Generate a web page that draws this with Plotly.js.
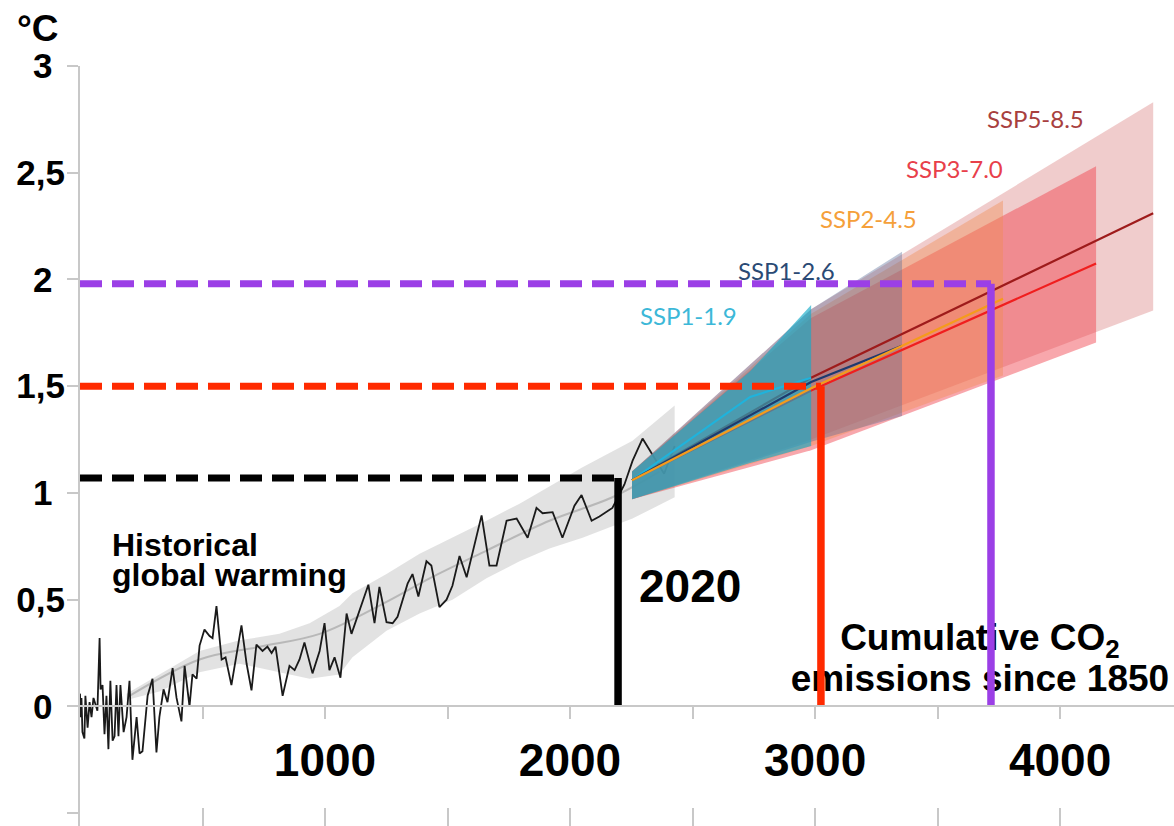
<!DOCTYPE html>
<html>
<head>
<meta charset="utf-8">
<script src="https://cdn.plot.ly/plotly-3.0.1.min.js"></script>
<style>html,body{margin:0;padding:0;background:#fff;}#chart{width:1174px;height:826px;}</style>
</head>
<body>
<div id="chart"></div>
<script>
// ---------- DATA ----------
// Historical warming (x = cumulative CO2 emissions since 1850, GtCO2; y = warming, °C)
const histX = [0,3,6,10,18,22,31,39,47,55,63,71,80,84,92,100,108,116,124,133,141,149,157,165,178,190,202,214,231,243,255,276,296,312,324,341,357,378,394,414,427,439,447,459,476,488,508,529,541,557,578,594,618,659,680,700,720,745,765,782,798,827,855,876,896,916,949,978,998,1018,1039,1063,1088,1108,1141,1157,1177,1202,1222,1251,1276,1296,1337,1357,1381,1414,1434,1467,1496,1520,1549,1578,1639,1671,1700,1741,1782,1827,1863,1888,1929,1969,2018,2047,2088,2120,2173,2222,2255,2296,2337,2384,2427];
const histY = [0.06,-0.05,0.04,-0.12,-0.15,0.05,-0.10,0.02,-0.05,0.04,0.01,-0.02,0.32,0.08,0.10,-0.13,0.05,-0.20,0.12,-0.16,-0.14,0.10,-0.14,0.10,-0.12,-0.05,0.12,-0.25,-0.05,-0.22,-0.21,0.05,0.13,-0.215,-0.05,0.08,0.02,0.18,0.04,-0.07,0.19,0.08,0.00,0.15,0.13,0.285,0.36,0.33,0.32,0.47,0.22,0.23,0.10,0.38,0.20,0.075,0.29,0.26,0.28,0.25,0.28,0.05,0.19,0.17,0.22,0.30,0.155,0.26,0.39,0.17,0.23,0.135,0.435,0.34,0.45,0.50,0.57,0.39,0.56,0.395,0.39,0.42,0.575,0.62,0.515,0.68,0.66,0.465,0.50,0.565,0.705,0.605,0.895,0.66,0.66,0.87,0.88,0.79,0.93,0.905,0.91,0.79,0.94,0.99,0.87,0.89,0.93,1.04,1.15,1.255,1.175,1.09,1.22];

// Historical uncertainty band and smoothed trend
const bandX     = [190, 324, 488, 651, 814, 937, 1059, 1112, 1251, 1386, 1520, 1659, 1794, 1916, 2051, 2255, 2427];
const bandUpper = [0.06, 0.15, 0.26, 0.31, 0.34, 0.39, 0.47, 0.53, 0.62, 0.715, 0.79, 0.87, 0.95, 1.03, 1.12, 1.245, 1.41];
const bandLower = [0.03, 0.07, 0.16, 0.20, 0.16, 0.13, 0.15, 0.23, 0.355, 0.435, 0.50, 0.60, 0.68, 0.74, 0.79, 0.88, 0.98];
const trendX = [202, 488, 733, 978, 1251, 1427, 1659, 1916, 2173, 2365];
const trendY = [0.05, 0.22, 0.28, 0.34, 0.49, 0.60, 0.73, 0.87, 0.98, 1.10];

// Scenario projections
const sspNames = ["SSP1-1.9", "SSP1-2.6", "SSP2-4.5", "SSP3-7.0", "SSP5-8.5"];
const ssp119X = [2253, 2735, 2984];
const ssp119Upper = [1.10, 1.57, 1.88];
const ssp119Lower = [0.97, 1.14, 1.22];
const ssp119Median = [1.06, 1.45, 1.54];
const ssp126X = [2253, 2984, 3355];
const ssp126Upper = [1.10, 1.86, 2.13];
const ssp126Lower = [0.97, 1.24, 1.36];
const ssp126Median = [1.06, 1.52, 1.69];
const ssp245X = [2253, 2984, 3767];
const ssp245Upper = [1.10, 1.84, 2.37];
const ssp245Lower = [0.97, 1.22, 1.55];
const ssp245Median = [1.06, 1.49, 1.91];
const ssp370X = [2253, 2984, 4147];
const ssp370Upper = [1.10, 1.82, 2.53];
const ssp370Lower = [0.97, 1.20, 1.705];
const ssp370Median = [1.06, 1.48, 2.075];
const ssp585X = [2253, 2984, 4380];
const ssp585Upper = [1.10, 1.86, 2.83];
const ssp585Lower = [0.97, 1.25, 1.855];
const ssp585Median = [1.06, 1.54, 2.31];
// label anchor positions (data units)
const sspLabelX = [2482, 2884, 3220, 3571, 3898];
const sspLabelY = [1.829, 2.04, 2.288, 2.518, 2.752];

// Thresholds: 2020 level, 1.5 °C, 2 °C with matching cumulative emissions
const thresholdTemps = [1.07, 1.5, 1.98];
const thresholdEmissions = [2196, 3024, 3718];

// Axis ticks
const xTickVals = [1000, 2000, 3000, 4000];
const xTickText = ["1000", "2000", "3000", "4000"];
const xMinorTickVals = [500, 1500, 2500, 3500];
const xAllTickVals = [500, 1000, 1500, 2000, 2500, 3000, 3500, 4000];
const yTickVals = [0, 0.5, 1, 1.5, 2, 2.5, 3];
const yTickText = ["0", "0,5", "1", "1,5", "2", "2,5", "3"];
const yMinorTickVals = [-0.5];

// ---------- STYLE ----------
const BOLD = "Liberation Sans, Arial, sans-serif";
const sspLine = ["#1fb3dc", "#1e3a6e", "#f59b1b", "#f01e1e", "#9e1b1b"];
const sspFill = ["rgba(20,170,200,0.65)", "rgba(85,105,150,0.38)", "rgba(240,140,80,0.40)", "rgba(240,60,70,0.45)", "rgba(205,85,85,0.30)"];
const sspText = ["#3cb8d8", "#2a4a74", "#f5a03a", "#e8404a", "#a8403e"];
const thrColors = ["#000000", "#ff2a00", "#9b3fe6"];
// single-digit tick labels get trailing padding so all labels sit centred like the original
const yTickDisplay = yTickText.map(t => t.length === 1 ? t + "\u00A0\u200A" : t);

const ssp = [
  {x: ssp119X, up: ssp119Upper, lo: ssp119Lower, med: ssp119Median},
  {x: ssp126X, up: ssp126Upper, lo: ssp126Lower, med: ssp126Median},
  {x: ssp245X, up: ssp245Upper, lo: ssp245Lower, med: ssp245Median},
  {x: ssp370X, up: ssp370Upper, lo: ssp370Lower, med: ssp370Median},
  {x: ssp585X, up: ssp585Upper, lo: ssp585Lower, med: ssp585Median}
];

function bandTrace(i) {
  const s = ssp[i];
  return {
    x: s.x.concat(s.x.slice().reverse()),
    y: s.up.concat(s.lo.slice().reverse()),
    mode: "lines", fill: "toself", fillcolor: sspFill[i],
    line: {width: 0}, hoverinfo: "skip", showlegend: false
  };
}
function medTrace(i) {
  const s = ssp[i];
  return {x: s.x, y: s.med, mode: "lines", line: {color: sspLine[i], width: 2.2}, hoverinfo: "skip", showlegend: false};
}

const traces = [];
// Historical band
traces.push({
  x: bandX.concat(bandX.slice().reverse()),
  y: bandUpper.concat(bandLower.slice().reverse()),
  mode: "lines", fill: "toself", fillcolor: "rgba(190,190,190,0.45)",
  line: {width: 0}, hoverinfo: "skip", showlegend: false
});
traces.push({x: trendX, y: trendY, mode: "lines", line: {color: "rgba(150,150,150,0.55)", width: 2, shape: "spline"}, hoverinfo: "skip", showlegend: false});
traces.push({x: histX, y: histY, mode: "lines", line: {color: "#1a1a1a", width: 1.8}, hoverinfo: "skip", showlegend: false});

// Scenario bands and medians (layering as in the original)
traces.push(bandTrace(4), bandTrace(3), bandTrace(2), bandTrace(1));
traces.push(medTrace(4), medTrace(3));
traces.push(bandTrace(0));
traces.push(medTrace(0), medTrace(1), medTrace(2));

// CO2 label as text trace (so the threshold lines can be drawn over it)
traces.push({
  x: [3673, 3673], y: [0.307, 0.117], mode: "text",
  text: ["Cumulative CO<sub>2</sub>", "emissions since 1850"],
  textposition: "middle center",
  textfont: {family: BOLD, size: 37, weight: 700, color: "#000"},
  cliponaxis: false, hoverinfo: "skip", showlegend: false
});

// Threshold lines
for (let i = 0; i < thresholdTemps.length; i++) {
  traces.push({
    x: [0, thresholdEmissions[i]], y: [thresholdTemps[i], thresholdTemps[i]],
    mode: "lines", line: {color: thrColors[i], width: 7, dash: "22px,10px"},
    hoverinfo: "skip", showlegend: false, cliponaxis: false
  });
  traces.push({
    x: [thresholdEmissions[i], thresholdEmissions[i]], y: [0, thresholdTemps[i]],
    mode: "lines", line: {color: thrColors[i], width: 7.5},
    hoverinfo: "skip", showlegend: false
  });
}
// bottom tick axis carrier
traces.push({x: [null], y: [null], xaxis: "x2", mode: "lines", hoverinfo: "skip", showlegend: false});

const annotations = [];
for (let i = 0; i < sspNames.length; i++) {
  annotations.push({
    x: sspLabelX[i], y: sspLabelY[i], xref: "x", yref: "y", text: sspNames[i], showarrow: false,
    xanchor: "center", yanchor: "middle",
    font: {family: "Lato, Open Sans, sans-serif", size: 24, color: sspText[i]}
  });
}
annotations.push({x: 122, y: 0.755, xref: "x", yref: "y", text: "Historical", showarrow: false, xanchor: "left", yanchor: "middle",
  font: {family: BOLD, size: 32, weight: 700, color: "#000"}});
annotations.push({x: 122, y: 0.616, xref: "x", yref: "y", text: "global warming", showarrow: false, xanchor: "left", yanchor: "middle",
  font: {family: BOLD, size: 32, weight: 700, color: "#000"}});
annotations.push({x: 2490, y: 0.562, xref: "x", yref: "y", text: "2020", showarrow: false, xanchor: "center", yanchor: "middle",
  font: {family: BOLD, size: 46, weight: 700, color: "#000"}});
annotations.push({x: -0.0384, y: 1.049, xref: "paper", yref: "paper", text: "°C", showarrow: false, xanchor: "center", yanchor: "middle",
  font: {family: BOLD, size: 37, weight: 700, color: "#000"}});

const axisGrey = "#c8c8c8";
const layout = {
  width: 1174, height: 826,
  margin: {l: 80, r: 0, t: 66, b: 0, pad: 0},
  paper_bgcolor: "#fff", plot_bgcolor: "#fff",
  showlegend: false,
  xaxis: {
    range: [0, 4465], anchor: "free", position: 0.56 / 3.56,
    showline: true, linecolor: axisGrey, linewidth: 2,
    ticks: "outside", ticklen: 12, tickwidth: 2, tickcolor: axisGrey,
    tickmode: "array", tickvals: xTickVals, ticktext: xTickText,
    minor: {tickmode: "array", tickvals: xMinorTickVals, ticks: "outside", ticklen: 12, tickwidth: 2, tickcolor: axisGrey, showgrid: false},
    tickfont: {family: BOLD, size: 46, weight: 700, color: "#000"},
    ticklabelstandoff: 1,
    showgrid: false, zeroline: false, fixedrange: true
  },
  xaxis2: {
    range: [0, 4465], overlaying: "x", anchor: "free", position: 0,
    showline: false, ticks: "inside", ticklen: 18, tickwidth: 2, tickcolor: axisGrey,
    tickmode: "array", tickvals: xAllTickVals, showticklabels: false,
    showgrid: false, zeroline: false, fixedrange: true
  },
  yaxis: {
    range: [-0.56, 3.0],
    showline: true, linecolor: axisGrey, linewidth: 2,
    ticks: "outside", ticklen: 11, tickwidth: 2, tickcolor: axisGrey,
    tickmode: "array", tickvals: yTickVals, ticktext: yTickDisplay,
    minor: {tickmode: "array", tickvals: yMinorTickVals, ticks: "outside", ticklen: 11, tickwidth: 2, tickcolor: axisGrey, showgrid: false},
    tickfont: {family: BOLD, size: 35, weight: 700, color: "#000"},
    ticklabelstandoff: -5,
    showgrid: false, zeroline: false, fixedrange: true
  },
  annotations: annotations
};

Plotly.newPlot("chart", traces, layout, {displayModeBar: false, staticPlot: true});
</script>
</body>
</html>
